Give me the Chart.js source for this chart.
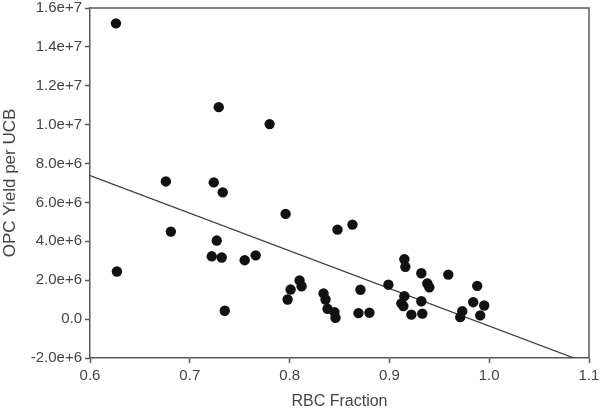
<!DOCTYPE html>
<html>
<head>
<meta charset="utf-8">
<script src="https://cdn.jsdelivr.net/npm/chart.js@4"></script>
<style>
  html, body { margin: 0; padding: 0; background: #ffffff; }
  #wrap { width: 600px; height: 411px; }
</style>
</head>
<body>
<div id="wrap"><canvas id="c" width="600" height="411"></canvas></div>
<script>
// RBC fraction (x) and OPC yield per UCB (y) for each sample
const rbcFraction = [
  0.626, 0.729, 0.780, 0.676, 0.724, 0.733, 0.796, 0.848, 0.681, 0.727,
  0.722, 0.732, 0.755, 0.766, 0.627, 0.810, 0.812, 0.801, 0.798, 0.834,
  0.836, 0.838, 0.845, 0.846, 0.735, 0.863, 0.871, 0.869, 0.880, 0.899,
  0.915, 0.916, 0.915, 0.912, 0.914, 0.922, 0.932, 0.932, 0.933, 0.938,
  0.940, 0.959, 0.988, 0.984, 0.995, 0.991, 0.973, 0.971
];
const opcYield = [
  1.521e7, 1.090e7, 1.003e7, 7.08e6, 7.03e6, 6.52e6, 5.41e6, 4.60e6, 4.50e6, 4.04e6,
  3.23e6, 3.17e6, 3.03e6, 3.28e6, 2.45e6, 1.99e6, 1.69e6, 1.52e6, 1.01e6, 1.32e6,
  1.01e6, 0.53e6, 0.36e6, 0.07e6, 0.43e6, 4.86e6, 1.51e6, 0.31e6, 0.33e6, 1.77e6,
  3.08e6, 2.69e6, 1.18e6, 0.81e6, 0.67e6, 0.23e6, 2.36e6, 0.92e6, 0.28e6, 1.83e6,
  1.64e6, 2.29e6, 1.71e6, 0.87e6, 0.70e6, 0.19e6, 0.41e6, 0.10e6
];
// Regression line end points
const fitX = [0.6, 1.085];
const fitY = [7.38e6, -2.0e6];

const xTickLabels = ['0.6', '0.7', '0.8', '0.9', '1.0', '1.1'];
const yTickLabels = ['-2.0e+6', '0.0', '2.0e+6', '4.0e+6', '6.0e+6', '8.0e+6',
                     '1.0e+7', '1.2e+7', '1.4e+7', '1.6e+7'];

const xTitle = 'RBC Fraction';
const yTitle = 'OPC Yield per UCB';

const scatterData = rbcFraction.map((x, i) => ({ x: x, y: opcYield[i] }));
const lineData = fitX.map((x, i) => ({ x: x, y: fitY[i] }));

const axisColor = '#5a5a5a';
const textColor = '#444444';

const framePlugin = {
  id: 'frame',
  afterDraw(chart) {
    const a = chart.chartArea;
    const ctx = chart.ctx;
    ctx.save();
    ctx.strokeStyle = axisColor;
    ctx.lineWidth = 1.5;
    ctx.beginPath();
    ctx.moveTo(a.left, a.top);
    ctx.lineTo(a.right, a.top);
    ctx.lineTo(a.right, a.bottom);
    ctx.stroke();
    ctx.restore();
  }
};

new Chart(document.getElementById('c'), {
  type: 'scatter',
  data: {
    datasets: [
      {
        type: 'line',
        data: lineData,
        borderColor: '#3a3a3a',
        borderWidth: 1.3,
        pointRadius: 0,
        fill: false,
        order: 2
      },
      {
        type: 'scatter',
        data: scatterData,
        backgroundColor: '#111111',
        borderWidth: 0,
        pointRadius: 5.2,
        order: 1
      }
    ]
  },
  options: {
    responsive: false,
    animation: false,
    layout: { padding: { top: 8, right: 11, left: 0, bottom: 0 } },
    plugins: { legend: { display: false }, tooltip: { enabled: false } },
    scales: {
      x: {
        type: 'linear',
        min: 0.6,
        max: 1.1,
        afterFit(s) { s.height = 53; s.paddingLeft = 0; s.paddingRight = 0; },
        afterBuildTicks(s) {
          s.ticks = xTickLabels.map(t => ({ value: parseFloat(t) }));
        },
        ticks: {
          color: textColor,
          font: { family: 'Liberation Sans, Arial, sans-serif', size: 15 },
          padding: 4,
          maxRotation: 0,
          callback: (v, i) => xTickLabels[i]
        },
        grid: { drawOnChartArea: false, drawTicks: true, tickLength: 5, tickColor: axisColor, tickWidth: 1.5 },
        border: { display: true, color: axisColor, width: 1.5 },
        title: {
          display: true,
          text: xTitle,
          color: textColor,
          font: { family: 'Liberation Sans, Arial, sans-serif', size: 16 },
          padding: { top: 0, bottom: 0 }
        }
      },
      y: {
        type: 'linear',
        min: -2e6,
        max: 1.6e7,
        afterFit(s) { s.width = 90; s.paddingTop = 0; s.paddingBottom = 0; },
        afterBuildTicks(s) {
          s.ticks = yTickLabels.map(t => ({ value: parseFloat(t) }));
        },
        ticks: {
          color: textColor,
          font: { family: 'Liberation Sans, Arial, sans-serif', size: 15 },
          padding: 3,
          callback: (v, i) => yTickLabels[i]
        },
        grid: { drawOnChartArea: false, drawTicks: true, tickLength: 5, tickColor: axisColor, tickWidth: 1.5 },
        border: { display: true, color: axisColor, width: 1.5 },
        title: {
          display: true,
          text: yTitle,
          color: textColor,
          font: { family: 'Liberation Sans, Arial, sans-serif', size: 17 },
          padding: { top: 0, bottom: 0 }
        }
      }
    }
  },
  plugins: [framePlugin]
});
</script>
</body>
</html>
